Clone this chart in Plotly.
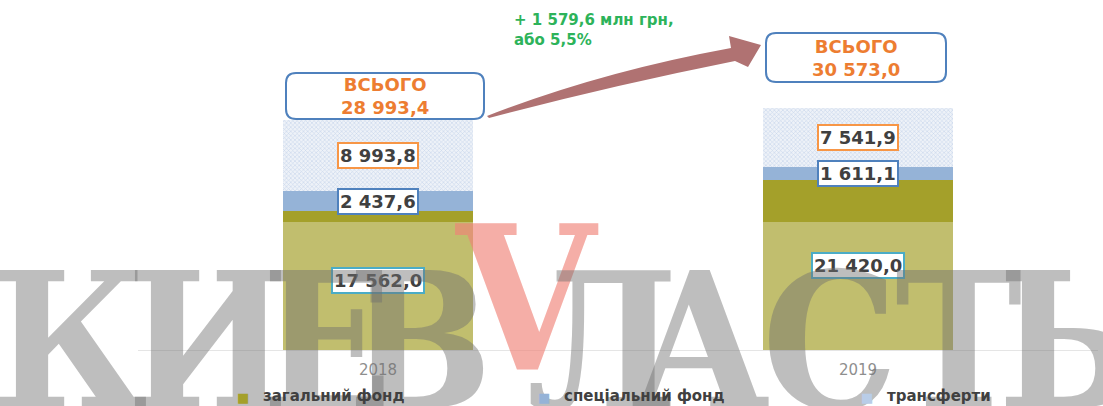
import plotly.graph_objects as go

# ---------------- data ----------------
years = ["2018", "2019"]
general_fund = [17562.0, 21420.0]
special_fund = [2437.6, 1611.1]
transfers = [8993.8, 7541.9]
totals = [28993.4, 30573.0]
series_names = ["загальний фонд", "спеціальний фонд", "трансферти"]
change_abs = 1579.6
change_pct = 5.5
total_word = "ВСЬОГО"
watermark_letters = ["К", "И", "Е", "В", "V", "Л", "А", "С", "Т", "Ь"]

# ---------------- geometry ----------------
W, H = 1103, 406
ML, MR, MT, MB = 138, 5, 72, 56
PW, PH = W - ML - MR, H - MT - MB
YMAX = 35050


def px(xp, yp):
    return ((xp - ML) / PW, (H - MB - yp) / PH)


def fmt(v):
    return f"{v:,.1f}".replace(",", " ").replace(".", ",")


def rounded_rect(x0, y0, x1, y1, r):
    pts = []
    a = px(x0 + r, y0); pts.append(f"M{a[0]},{a[1]}")
    b = px(x1 - r, y0); pts.append(f"L{b[0]},{b[1]}")
    c = px(x1, y0); d = px(x1, y0 + r); pts.append(f"Q{c[0]},{c[1]} {d[0]},{d[1]}")
    e = px(x1, y1 - r); pts.append(f"L{e[0]},{e[1]}")
    f = px(x1, y1); g = px(x1 - r, y1); pts.append(f"Q{f[0]},{f[1]} {g[0]},{g[1]}")
    h = px(x0 + r, y1); pts.append(f"L{h[0]},{h[1]}")
    i = px(x0, y1); j = px(x0, y1 - r); pts.append(f"Q{i[0]},{i[1]} {j[0]},{j[1]}")
    k = px(x0, y0 + r); pts.append(f"L{k[0]},{k[1]}")
    l_ = px(x0, y0); m = px(x0 + r, y0); pts.append(f"Q{l_[0]},{l_[1]} {m[0]},{m[1]}")
    return " ".join(pts) + " Z"


def poly_path(cmds):
    out = []
    for c in cmds:
        op, coords = c[0], c[1:]
        parts = []
        for k in range(0, len(coords), 2):
            p = px(coords[k], coords[k + 1])
            parts.append(f"{p[0]},{p[1]}")
        out.append(op + " ".join(parts))
    return " ".join(out) + " Z"


OLIVE = "#a4a02a"
SPEC = "#95b3d7"
HATCH = "#9db9dd"

fig = go.Figure()
fig.add_trace(go.Bar(x=years, y=general_fund, name=series_names[0], width=0.396,
                     marker=dict(color=OLIVE, line=dict(width=0))))
fig.add_trace(go.Bar(x=years, y=special_fund, name=series_names[1], width=0.396,
                     marker=dict(color=SPEC, line=dict(width=0))))
fig.add_trace(go.Bar(x=years, y=transfers, name=series_names[2], width=0.396,
                     marker=dict(color="white", line=dict(width=0),
                                 pattern=dict(shape="x", fgcolor=HATCH, bgcolor="#eef2f8",
                                              size=3, solidity=0.35))))

shapes = []
annotations = []

# segment labels
label_borders = ["#4bacc6", "#4f81bd", "#f79646"]
stack = [general_fund, special_fund, transfers]
for si, series in enumerate(stack):
    for yi in range(len(years)):
        base = sum(s[yi] for s in stack[:si])
        annotations.append(dict(
            x=yi, y=base + series[yi] / 2, xref="x", yref="y", showarrow=False,
            xanchor="center", yanchor="middle",
            text=f"<b>{fmt(series[yi])}</b>",
            font=dict(family="DejaVu Sans", size=18, color="#404040"),
            bgcolor="white", bordercolor=label_borders[si], borderwidth=2, borderpad=1))

# total boxes
box_px = [(286, 73, 484, 119), (766, 33, 946, 82)]
for (x0, y0, x1, y1), tot in zip(box_px, totals):
    shapes.append(dict(type="path", xref="paper", yref="paper",
                       path=rounded_rect(x0, y0, x1, y1, 10),
                       fillcolor="white", line=dict(color="#4f81bd", width=2)))
    cx, cy = px((x0 + x1) / 2, (y0 + y1) / 2)
    annotations.append(dict(x=cx, y=cy, xref="paper", yref="paper", showarrow=False,
                            xanchor="center", yanchor="middle",
                            text=f"<b>{total_word}<br>{fmt(tot)}</b>",
                            font=dict(family="DejaVu Sans", size=18, color="#ed7d31")))

# arrow
shapes.append(dict(type="path", xref="paper", yref="paper",
                   path=poly_path([("M", 487, 116), ("Q", 600, 72, 731, 48), ("L", 729, 36),
                                   ("L", 761, 45), ("L", 748, 67), ("L", 735, 61),
                                   ("Q", 610, 86, 489, 118)]),
                   fillcolor="#b07272", line=dict(width=0)))

ax, ay = px(512, 30)
annotations.append(dict(x=ax, y=ay, xref="paper", yref="paper", showarrow=False,
                        xanchor="left", yanchor="middle", align="left",
                        text=f"<b>+ {fmt(change_abs)} млн грн,<br>або {str(change_pct).replace('.', ',')}%</b>",
                        font=dict(family="DejaVu Sans", size=15, color="#2db35a")))

# watermark
bx0, by0 = px(10, 222)
bx1, by1 = px(1100, 420)
shapes.append(dict(type="rect", xref="paper", yref="paper", x0=bx0, y0=by1, x1=bx1, y1=by0,
                   fillcolor="rgba(255,255,255,0.32)", line=dict(width=0), layer="above"))
letter_cx = [70, 208, 327, 420, 527, 602, 700, 830, 958, 1068]
for ch, cxp in zip(watermark_letters, letter_cx):
    red = ch == "V"
    lx, ly = px(cxp, 179 if red else 228)
    annotations.append(dict(x=lx, y=ly, xref="paper", yref="paper", showarrow=False,
                            xanchor="center", yanchor="top", text=f"<b>{ch}</b>",
                            font=dict(family="DejaVu Serif Condensed, Liberation Serif",
                                      size=200 if red else 190,
                                      color="rgba(240,130,120,0.65)" if red else "rgba(110,110,110,0.45)")))

# manual legend (drawn above the watermark)
leg_colors = [OLIVE, SPEC, "#b9cde8"]
leg_marker_x = [243, 544, 867]
for name, col, mx in zip(series_names, leg_colors, leg_marker_x):
    mxp, myp = px(mx, 397)
    annotations.append(dict(x=mxp, y=myp, xref="paper", yref="paper", showarrow=False,
                            xanchor="center", yanchor="middle", text="■",
                            font=dict(family="DejaVu Sans", size=13, color=col)))
    tx, ty = px(mx + 18, 396)
    annotations.append(dict(x=tx, y=ty, xref="paper", yref="paper", showarrow=False,
                            xanchor="left", yanchor="middle", text=f"<b>{name}</b>",
                            font=dict(family="DejaVu Sans", size=15, color="#404040")))

fig.update_layout(
    width=W, height=H, margin=dict(l=ML, r=MR, t=MT, b=MB, autoexpand=False),
    barmode="stack", bargap=0.6,
    paper_bgcolor="white", plot_bgcolor="white",
    showlegend=False,
    xaxis=dict(type="category", range=[-0.5, 1.5], showline=True, linecolor="#d9d9d9",
               linewidth=1, showgrid=False, ticks="", ticklabelstandoff=6,
               tickfont=dict(family="DejaVu Sans", size=15, color="#595959")),
    yaxis=dict(range=[0, YMAX], visible=False, showgrid=False),
    shapes=shapes, annotations=annotations,
)

fig.write_html("out.html", config={"displayModeBar": False},
               post_script="document.body.style.margin='0';")
